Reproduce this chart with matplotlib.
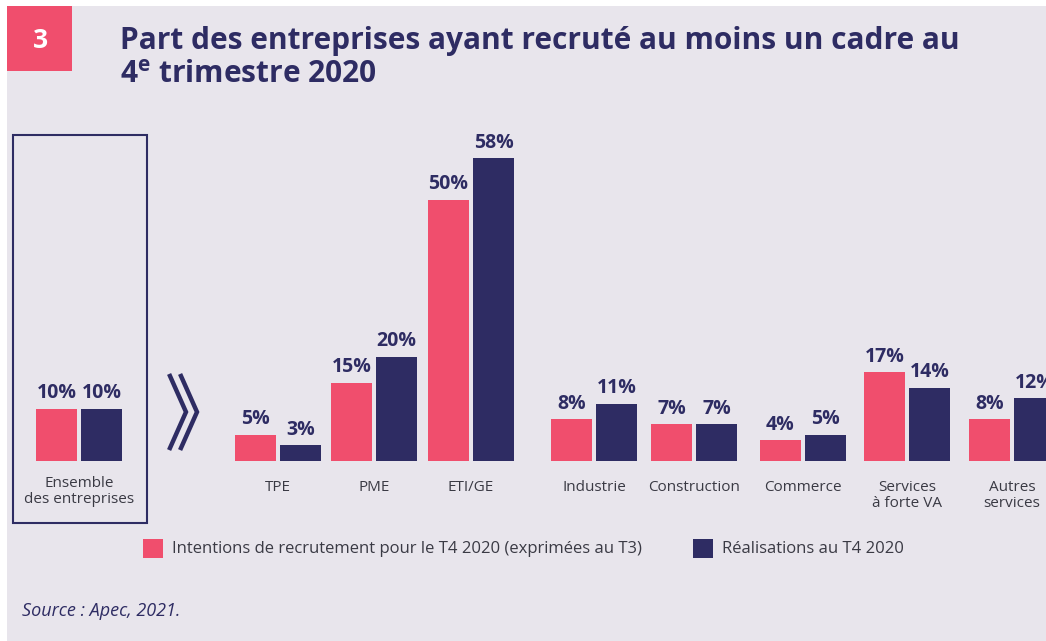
import matplotlib.pyplot as plt
from matplotlib.patches import Rectangle
from matplotlib.lines import Line2D

W, H = 1046, 641
PINK = "#F04E6D"
NAVY = "#2E2C63"
BG = "#E8E5EC"
GREY = "#3A3A44"
FONT = "Open Sans"

categories = ["Ensemble\ndes entreprises", "TPE", "PME", "ETI/GE", "Industrie",
              "Construction", "Commerce", "Services\nà forte VA", "Autres\nservices"]
intentions = [10, 5, 15, 50, 8, 7, 4, 17, 8]
realisations = [10, 3, 20, 58, 11, 7, 5, 14, 12]

# group centres in pixel units
centres = [79, 278, 374, 471, 594, 694, 803, 907, 1012]
bw = 41
gap = 4
ppu = 5.22  # pixels per percentage point
base = 461


def fx(x):
    return x / W


def fy(y):
    return 1 - y / H


fig = plt.figure(figsize=(W / 100, H / 100), dpi=100)
fig.patch.set_facecolor("white")
fig.patches.append(Rectangle((fx(7), 0), 1, fy(6), transform=fig.transFigure,
                             facecolor=BG, edgecolor="none", zorder=-10))
# number badge
fig.patches.append(Rectangle((fx(7), fy(71)), fx(65), 65 / H, transform=fig.transFigure,
                             facecolor=PINK, edgecolor="none"))
fig.text(fx(40), fy(40), "3", color="white", fontsize=19, fontweight="bold",
         family=FONT, ha="center", va="center")
fig.text(fx(120), fy(41), "Part des entreprises ayant recruté au moins un cadre au",
         color=NAVY, fontsize=21.5, fontweight="bold", family=FONT, va="center")
fig.text(fx(120), fy(75), r"4$^{\mathregular{e}}$ trimestre 2020",
         color=NAVY, fontsize=21.5, fontweight="bold", family=FONT, va="center")

# axes in pixel coordinates, baseline at y = base
top_px = 120
ax = fig.add_axes([0, fy(base), 1, (base - top_px) / H])
ax.set_xlim(0, W)
ax.set_ylim(0, (base - top_px) / ppu)
ax.axis("off")
ax.patch.set_alpha(0)

xs_p = [c - gap / 2 - bw / 2 for c in centres]
xs_n = [c + gap / 2 + bw / 2 for c in centres]
ax.bar(xs_p, intentions, width=bw, color=PINK, clip_on=False)
ax.bar(xs_n, realisations, width=bw, color=NAVY, clip_on=False)
for x, v in zip(xs_p, intentions):
    ax.annotate(f"{v}%", (x, v), xytext=(0, 4), textcoords="offset points",
                ha="center", va="bottom", color=NAVY, fontsize=14,
                fontweight="bold", family=FONT, annotation_clip=False)
for x, v in zip(xs_n, realisations):
    ax.annotate(f"{v}%", (x, v), xytext=(0, 4), textcoords="offset points",
                ha="center", va="bottom", color=NAVY, fontsize=14,
                fontweight="bold", family=FONT, annotation_clip=False)

for i, (c, lab) in enumerate(zip(centres, categories)):
    top = 476 if i == 0 else 480
    fig.text(fx(c), fy(top), lab, ha="center", va="top", fontsize=11,
             color=GREY, family=FONT, linespacing=1.1)

# frame around "Ensemble"
fig.patches.append(Rectangle((fx(13), fy(523)), fx(134), (523 - 135) / H,
                             transform=fig.transFigure, facecolor="none",
                             edgecolor=NAVY, linewidth=1.5))
# double chevron
for dx in (0, 11):
    fig.lines.append(Line2D([fx(170 + dx), fx(186 + dx), fx(170 + dx)],
                            [fy(376), fy(412), fy(448)], transform=fig.transFigure,
                            color=NAVY, linewidth=3.2, solid_joinstyle="miter"))

# legend
fig.patches.append(Rectangle((fx(143), fy(558)), 20 / W, 19 / H, transform=fig.transFigure,
                             facecolor=PINK, edgecolor="none"))
fig.text(fx(172), fy(549), "Intentions de recrutement pour le T4 2020 (exprimées au T3)",
         fontsize=12, color=GREY, family=FONT, va="center")
fig.patches.append(Rectangle((fx(693), fy(558)), 20 / W, 19 / H, transform=fig.transFigure,
                             facecolor=NAVY, edgecolor="none"))
fig.text(fx(722), fy(549), "Réalisations au T4 2020",
         fontsize=12, color=GREY, family=FONT, va="center")

fig.text(fx(22), fy(611), "Source : Apec, 2021.", fontsize=13, color=NAVY,
         style="italic", family=FONT, va="center")

fig.savefig("out.png", dpi=100, facecolor=fig.get_facecolor())
